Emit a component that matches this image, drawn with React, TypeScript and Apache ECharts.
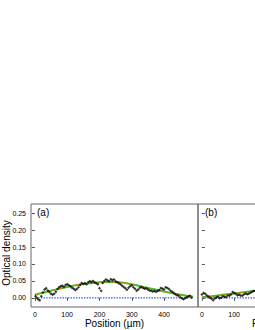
import React, { useEffect, useRef } from "react";
import * as echarts from "echarts";

const yTicks = [0, 0.05, 0.1, 0.15, 0.2, 0.25];
const xTicksA = [0, 100, 200, 300, 400];
const xTicksB = [0, 100, 200, 300, 400];
const xLabelsB = [0, 100];

const posA = [2, 6, 10, 15, 20, 25, 30, 35, 40, 45, 50, 55, 60, 65, 70, 75, 80, 85, 90, 95, 100, 105, 110, 115, 120, 125, 130, 135, 140, 145, 150, 155, 160, 165, 170, 175, 180, 185, 190, 195, 200, 205, 210, 215, 220, 225, 230, 235, 240, 245, 250, 255, 260, 265, 270, 275, 280, 285, 290, 295, 300, 305, 310, 315, 320, 325, 330, 335, 340, 345, 350, 355, 360, 365, 370, 375, 380, 385, 390, 395, 400, 405, 410, 415, 420, 425, 430, 435, 440, 445, 450, 455, 460, 465, 470, 475, 480, 485];
const odA = [0.005, 0.0, -0.004, -0.007, 0.005, 0.016, 0.025, 0.028, 0.022, 0.017, 0.012, 0.009, 0.012, 0.018, 0.026, 0.031, 0.034, 0.036, 0.033, 0.038, 0.04, 0.037, 0.034, 0.03, 0.027, 0.023, 0.026, 0.031, 0.038, 0.044, 0.041, 0.043, 0.04, 0.046, 0.049, 0.047, 0.05, 0.046, 0.043, 0.04, 0.028, 0.021, 0.044, 0.05, 0.054, 0.051, 0.049, 0.055, 0.052, 0.054, 0.049, 0.046, 0.043, 0.04, 0.036, 0.032, 0.028, 0.024, 0.03, 0.034, 0.037, 0.031, 0.027, 0.021, 0.025, 0.03, 0.032, 0.029, 0.027, 0.028, 0.025, 0.022, 0.021, 0.019, 0.02, 0.018, 0.02, 0.023, 0.029, 0.027, 0.025, 0.031, 0.029, 0.026, 0.021, 0.018, 0.014, 0.011, 0.008, 0.006, 0.002, -0.001, -0.004, -0.001, 0.002, 0.004, 0.006, 0.0];

const fitPosA = [0, 50, 100, 150, 200, 230, 260, 300, 350, 400, 450, 490];
const fitA = [0.009, 0.021, 0.032, 0.041, 0.046, 0.047, 0.046, 0.04, 0.029, 0.019, 0.009, 0.003];

const posB = [0, 5, 10, 15, 20, 25, 30, 35, 40, 45, 50, 55, 60, 65, 70, 75, 80, 85, 90, 95, 100, 105, 110, 115, 120, 125, 130, 135, 140, 145, 150, 155, 160, 165, 170];
const odB = [0.01, 0.014, 0.012, 0.008, 0.004, 0.0, -0.003, -0.007, -0.002, 0.001, 0.003, -0.001, 0.0, 0.005, 0.003, 0.002, 0.007, 0.006, 0.01, 0.017, 0.014, 0.012, 0.008, 0.009, 0.007, 0.006, 0.01, 0.013, 0.011, 0.012, 0.015, 0.017, 0.02, 0.021, 0.018];

const fitPosB = [0, 50, 100, 160, 200];
const fitB = [0.002, 0.007, 0.013, 0.02, 0.024];

const zeroA = [10, 480];
const zeroB = [0, 500];

const FONT = "Liberation Sans, Arial, sans-serif";

function pairs(xs: number[], ys: number[]) {
  return xs.map((x, i) => [x, ys[i]]);
}

export default function App() {
  const ref = useRef<HTMLDivElement>(null);
  useEffect(() => {
    if (!ref.current) return;
    const chart = echarts.init(ref.current, undefined, { renderer: "svg" });
    const xAxisBase = (gridIndex: number, ticks: number[], labels: number[]) => ({
      type: "value",
      gridIndex,
      min: -12,
      max: 505,
      splitLine: { show: false },
      axisLine: { show: false },
      axisTick: { show: true, inside: false, length: 3, lineStyle: { color: "#555" }, customValues: ticks },
      axisLabel: { fontSize: 7, color: "#000", fontFamily: FONT, margin: 4, customValues: labels },
      name: "Position (µm)",
      nameLocation: "middle",
      nameGap: 10,
      nameTextStyle: { fontSize: 10, color: "#000", fontFamily: FONT },
    });
    const yAxisBase = (gridIndex: number, labels: boolean) => ({
      type: "value",
      gridIndex,
      min: -0.027,
      max: 0.277,
      splitLine: { show: false },
      axisLine: { show: false },
      axisTick: { show: true, inside: !labels, length: 3, lineStyle: { color: "#555" }, customValues: yTicks },
      axisLabel: {
        show: labels,
        fontSize: 7,
        color: "#000",
        fontFamily: FONT,
        margin: 5,
        customValues: yTicks,
        formatter: (v: number) => v.toFixed(2),
      },
    });
    const lines = (idx: number, fx: number[], fy: number[], zx: number[], px: number[], py: number[]) => [
      {
        type: "line",
        xAxisIndex: idx,
        yAxisIndex: idx,
        data: zx.map((x) => [x, 0]),
        symbol: "none",
        lineStyle: { color: "#3a5cff", width: 1.3, type: [1.5, 1.2] },
        z: 2,
      },
      {
        type: "line",
        xAxisIndex: idx,
        yAxisIndex: idx,
        data: pairs(fx, fy),
        smooth: true,
        symbol: "none",
        lineStyle: { color: "#2fcc2f", width: 2 },
        z: 3,
      },
      {
        type: "line",
        xAxisIndex: idx,
        yAxisIndex: idx,
        data: pairs(fx, fy),
        smooth: true,
        symbol: "none",
        lineStyle: { color: "#ff6a00", width: 1.2, type: [3, 3] },
        z: 4,
      },
      {
        type: "scatter",
        xAxisIndex: idx,
        yAxisIndex: idx,
        data: pairs(px, py),
        symbol: "diamond",
        symbolSize: 3,
        itemStyle: { color: "#000" },
        z: 5,
      },
    ];
    chart.setOption({
      animation: false,
      backgroundColor: "#fff",
      grid: [
        { left: 31, top: 204, width: 167, height: 103, show: true, borderColor: "#666", borderWidth: 1, backgroundColor: "transparent", containLabel: false, outerBoundsMode: "none" },
        { left: 198, top: 204, width: 167, height: 103, show: true, borderColor: "#666", borderWidth: 1, backgroundColor: "transparent", containLabel: false, outerBoundsMode: "none" },
      ],
      xAxis: [xAxisBase(0, xTicksA, xTicksA), xAxisBase(1, xTicksB, xLabelsB)],
      yAxis: [yAxisBase(0, true), yAxisBase(1, false)],
      series: [
        ...lines(0, fitPosA, fitA, zeroA, posA, odA),
        ...lines(1, fitPosB, fitB, zeroB, posB, odB),
      ],
      graphic: [
        { type: "text", left: 37, top: 207, style: { text: "(a)", fontSize: 10, fill: "#000", fontFamily: FONT } },
        { type: "text", left: 205, top: 207, style: { text: "(b)", fontSize: 10, fill: "#000", fontFamily: FONT } },
        {
          type: "text",
          x: 6.5,
          y: 253,
          rotation: Math.PI / 2,
          style: { text: "Optical density", fontSize: 10, fill: "#000", fontFamily: FONT, align: "center", verticalAlign: "middle" },
        },
      ],
    });
    return () => chart.dispose();
  }, []);
  return <div ref={ref} style={{ position: "fixed", left: 0, top: 0, width: 255, height: 330 }} />;
}
